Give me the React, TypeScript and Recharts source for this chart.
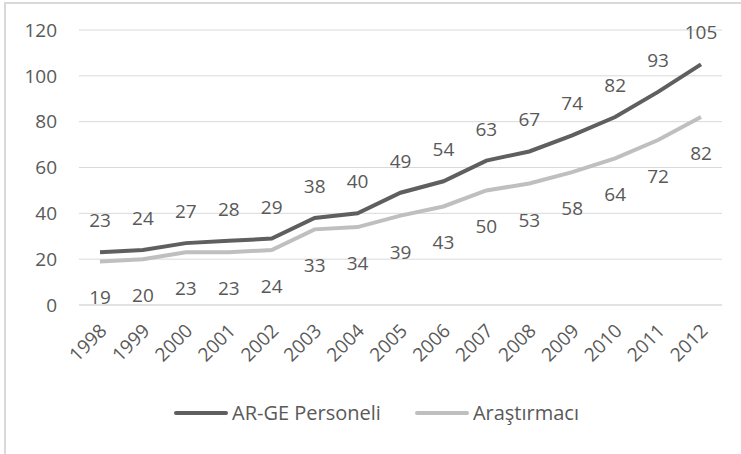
import { CartesianGrid, Legend, LabelList, Line, LineChart, XAxis, YAxis } from "recharts";

const YEARS = ["1998", "1999", "2000", "2001", "2002", "2003", "2004", "2005", "2006", "2007", "2008", "2009", "2010", "2011", "2012"];
const ARGE_PERSONELI = [23, 24, 27, 28, 29, 38, 40, 49, 54, 63, 67, 74, 82, 93, 105];
const ARASTIRMACI = [19, 20, 23, 23, 24, 33, 34, 39, 43, 50, 53, 58, 64, 72, 82];
const Y_TICKS = [0, 20, 40, 60, 80, 100, 120];

const data = YEARS.map((year, i) => ({ year, arge: ARGE_PERSONELI[i], arastirmaci: ARASTIRMACI[i] }));

const FONT = "'Open Sans', sans-serif";
const TEXT = "#595959";
const DARK = "#5f5f5f";
const LIGHT = "#bfbfbf";

function YearTick({ x, y, payload }: any) {
  const ax = x + 3;
  const ay = y + 18;
  return (
    <text
      x={ax}
      y={ay}
      transform={`rotate(-45, ${ax}, ${ay})`}
      textAnchor="end"
      dominantBaseline="central"
      fill={TEXT}
      fontSize={19}
      fontFamily={FONT}
    >
      {payload.value}
    </text>
  );
}

const aboveLabel = ({ x, y, value }: any) => (
  <text x={x} y={y - 32} textAnchor="middle" dominantBaseline="central" fill={TEXT} fontSize={19} fontFamily={FONT}>
    {value}
  </text>
);

const belowLabel = ({ x, y, value }: any) => (
  <text x={x} y={y + 36} textAnchor="middle" dominantBaseline="central" fill={TEXT} fontSize={19} fontFamily={FONT}>
    {value}
  </text>
);

function LegendContent({ payload }: any) {
  return (
    <div style={{ display: "flex", justifyContent: "center", gap: 34, paddingLeft: 12 }}>
      {(payload || []).map((p: any) => (
        <div key={p.value} style={{ display: "flex", alignItems: "center", gap: 4 }}>
          <div style={{ width: 54, height: 4, background: p.color, borderRadius: 2 }} />
          <span style={{ color: TEXT, fontSize: 20, fontFamily: FONT }}>{p.value}</span>
        </div>
      ))}
    </div>
  );
}

export default function App() {
  return (
    <div style={{ position: "absolute", left: 0, top: 0, width: 741, height: 454, background: "#fff" }}>
      <div
        style={{
          position: "absolute",
          left: 4,
          top: 2,
          width: 737,
          height: 452,
          borderTop: "2px solid #d9d9d9",
          borderLeft: "2px solid #d9d9d9",
          boxSizing: "border-box",
        }}
      />
      <LineChart width={741} height={454} data={data} margin={{ top: 30, right: 19, left: 0, bottom: 79 }}>
        <CartesianGrid horizontal vertical={false} stroke="#d9d9d9" />
        <XAxis
          dataKey="year"
          axisLine={{ stroke: "#d9d9d9" }}
          tickLine={false}
          tickSize={0}
          tickMargin={4}
          interval={0}
          padding={{ left: 21, right: 21 }}
          tick={<YearTick />}
          height={70}
        />
        <YAxis
          domain={[0, 120]}
          ticks={Y_TICKS}
          axisLine={false}
          tickLine={false}
          tickSize={0}
          tickMargin={22}
          width={79}
          tick={{ fill: TEXT, fontSize: 19, fontFamily: FONT }}
        />
        <Legend
          layout="horizontal"
          verticalAlign="middle"
          align="center"
          wrapperStyle={{ top: 399, left: 0, width: 741 }}
          content={<LegendContent />}
        />
        <Line
          type="linear"
          dataKey="arge"
          name="AR-GE Personeli"
          stroke={DARK}
          strokeWidth={4}
          dot={false}
          isAnimationActive={false}
        >
          <LabelList dataKey="arge" content={aboveLabel} />
        </Line>
        <Line
          type="linear"
          dataKey="arastirmaci"
          name="Araştırmacı"
          stroke={LIGHT}
          strokeWidth={4}
          dot={false}
          isAnimationActive={false}
        >
          <LabelList dataKey="arastirmaci" content={belowLabel} />
        </Line>
      </LineChart>
    </div>
  );
}
